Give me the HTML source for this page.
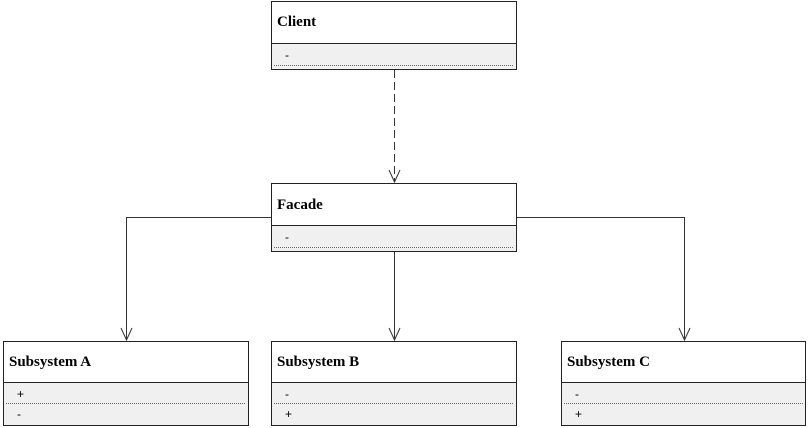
<!DOCTYPE html>
<html><head><meta charset="utf-8"><style>
html,body{margin:0;padding:0;background:#fff;width:808px;height:428px;overflow:hidden}
svg{display:block}
.t{font-family:"Liberation Serif",serif;font-weight:bold;font-size:15px;fill:#000}
.m{font-family:"Liberation Sans",sans-serif;font-size:12px;fill:#000}
</style></head><body>
<svg width="808" height="428" viewBox="0 0 808 428" xmlns="http://www.w3.org/2000/svg">
<g stroke="#333" fill="none" stroke-width="1">
<line x1="394.5" y1="70" x2="394.5" y2="182" stroke-dasharray="8,4"/>
<polyline points="389,170 394.5,182 400,170"/>
<polyline points="271,217.5 126.5,217.5 126.5,340"/>
<polyline points="121,328 126.5,340 132,328"/>
<line x1="394.5" y1="252" x2="394.5" y2="340"/>
<polyline points="389,328 394.5,340 400,328"/>
<polyline points="516,217.5 684.5,217.5 684.5,340"/>
<polyline points="679,328 684.5,340 690,328"/>
</g>
<rect x="271.5" y="1.5" width="245" height="68" fill="#fff" stroke="#222"/>
<rect x="272" y="43.5" width="244" height="25.5" fill="#f0f0f0"/>
<line x1="271.5" y1="43.5" x2="516.5" y2="43.5" stroke="#222"/>
<line x1="274" y1="65.5" x2="514" y2="65.5" stroke="#666" stroke-dasharray="1,1"/>
<text class="t" x="277" y="26">Client</text>
<text class="m" x="285" y="59" fill="#a04000">-</text>
<rect x="271.5" y="183.5" width="245" height="68" fill="#fff" stroke="#222"/>
<rect x="272" y="225.5" width="244" height="25.5" fill="#f0f0f0"/>
<line x1="271.5" y1="225.5" x2="516.5" y2="225.5" stroke="#222"/>
<line x1="274" y1="247.5" x2="514" y2="247.5" stroke="#666" stroke-dasharray="1,1"/>
<text class="t" x="277" y="209">Facade</text>
<text class="m" x="285" y="241" fill="#a04000">-</text>
<g>
<rect x="3.5" y="341.5" width="245" height="84" fill="#fff" stroke="#222"/>
<rect x="4" y="382.5" width="244" height="42.5" fill="#f0f0f0"/>
<line x1="3.5" y1="382.5" x2="248.5" y2="382.5" stroke="#222"/>
<line x1="6" y1="403.5" x2="246" y2="403.5" stroke="#666" stroke-dasharray="1,1"/>
<text class="t" x="9" y="366">Subsystem A</text>
<text class="m" x="17" y="398">+</text>
<text class="m" x="17" y="418">-</text>
</g>
<g>
<rect x="271.5" y="341.5" width="245" height="84" fill="#fff" stroke="#222"/>
<rect x="272" y="382.5" width="244" height="42.5" fill="#f0f0f0"/>
<line x1="271.5" y1="382.5" x2="516.5" y2="382.5" stroke="#222"/>
<line x1="274" y1="403.5" x2="514" y2="403.5" stroke="#666" stroke-dasharray="1,1"/>
<text class="t" x="277" y="366">Subsystem B</text>
<text class="m" x="285" y="398">-</text>
<text class="m" x="285" y="418">+</text>
</g>
<g>
<rect x="561.5" y="341.5" width="244" height="84" fill="#fff" stroke="#222"/>
<rect x="562" y="382.5" width="243" height="42.5" fill="#f0f0f0"/>
<line x1="561.5" y1="382.5" x2="805.5" y2="382.5" stroke="#222"/>
<line x1="564" y1="403.5" x2="803" y2="403.5" stroke="#666" stroke-dasharray="1,1"/>
<text class="t" x="567" y="366">Subsystem C</text>
<text class="m" x="575" y="398">-</text>
<text class="m" x="575" y="418">+</text>
</g>
</svg>
</body></html>
